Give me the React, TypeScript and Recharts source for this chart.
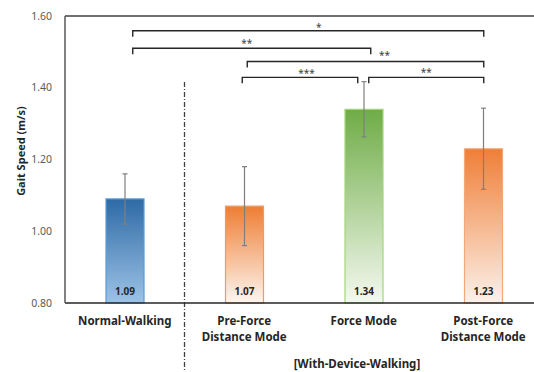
import { BarChart, Bar, XAxis, YAxis, Cell, ErrorBar, LabelList, ReferenceLine } from "recharts";

const categories = ["Normal-Walking", "Pre-Force\nDistance Mode", "Force Mode", "Post-Force\nDistance Mode"];
const speeds = [1.09, 1.07, 1.34, 1.23];
const errors = [0.07, 0.11, 0.077, 0.113];
const yTicks = [0.8, 1.0, 1.2, 1.4, 1.6];

// significance brackets: from/to category index, height in m/s, stars
const bracketFrom = [0, 0, 1, 1, 2];
const bracketTo = [3, 2, 3, 2, 3];
const bracketLevels = [1.559, 1.51, 1.473, 1.429, 1.429];
const bracketStars = ["*", "**", "**", "***", "**"];

const dividerTop = 1.416;
const dividerBottom = 0.607;

const topColors = ["#2e6aa5", "#ee7d33", "#6fac46", "#ef7f37"];
const bottomColors = ["#9dc3e6", "#fdf6f0", "#f4f9f0", "#fcf1ea"];
const strokeColors = ["#5b9bd5", "#f19a5e", "#a3d67a", "#f4a878"];
// pixel tweaks for bracket ends / star placement: [leftDx, rightDx, starDx, starDy]
const bracketTweaks = [
  [8, 0.5, 10.5, 0],
  [8, 7, -5, -1],
  [3, 0.5, 19, -3],
  [-2, -6, 6.5, 0],
  [5, 0.5, 0, -1],
];

const data = categories.map((name, i) => ({ name, speed: speeds[i], err: errors[i] }));

const FONT = "'Noto Sans', 'DejaVu Sans', sans-serif";

const XTick = (props: any) => {
  const { x, y, payload } = props;
  const lines = String(payload.value).split("\n");
  return (
    <text x={x} textAnchor="middle" fontFamily={FONT} fontWeight="bold" fontSize={11.5} fill="#262626">
      {lines.map((l, i) => (
        <tspan key={i} x={x} y={y + 22 + i * 15.5}>
          {l}
        </tspan>
      ))}
    </text>
  );
};

const BarValue = (props: any) => {
  const { x, y, width, height, value } = props;
  return (
    <text
      x={x + width / 2}
      y={y + height - 8}
      textAnchor="middle"
      fontFamily={FONT}
      fontWeight="bold"
      fontSize={10}
      fill="#262626"
    >
      {Number(value).toFixed(2)}
    </text>
  );
};

const makeBracket = (i: number) => (props: any) => {
  const { x1, y1, x2 } = props;
  const [dl, dr, sdx, sdy] = bracketTweaks[i];
  const l = x1 + dl;
  const r = x2 + dr;
  return (
    <g>
      <path
        d={`M${l},${y1 + 6}L${l},${y1}L${r},${y1}L${r},${y1 + 6}`}
        fill="none"
        stroke="#262626"
        strokeWidth={1.4}
      />
      <text x={(l + r) / 2 + sdx} y={y1 + sdy} textAnchor="middle" fontFamily={FONT} fontSize={10} fill="#404040">
        {bracketStars[i]}
      </text>
    </g>
  );
};

export default function App() {
  return (
    <div style={{ position: "fixed", left: 0, top: 0, width: 534, height: 372, overflow: "hidden", background: "#fff" }}>
      <BarChart width={560} height={372} data={data} margin={{ top: 16, right: 17, bottom: 0, left: 8 }}>
        <defs>
          {categories.map((_, i) => (
            <linearGradient key={i} id={`grad-${i}`} x1="0" y1="0" x2="0" y2="1">
              <stop offset="0%" stopColor={topColors[i]} />
              <stop offset="100%" stopColor={bottomColors[i]} />
            </linearGradient>
          ))}
        </defs>
        <XAxis
          dataKey="name"
          height={69}
          tickLine={false}
          tickSize={0}
          tickMargin={0}
          interval={0}
          axisLine={{ stroke: "#262626", strokeWidth: 1.5 }}
          tick={<XTick />}
          label={{
            content: () => (
              <text x={357} y={367.5} textAnchor="middle" fontFamily={FONT} fontWeight="bold" fontSize={11.5} fill="#262626">
                [With-Device-Walking]
              </text>
            ),
          }}
        />
        <YAxis
          width={57}
          domain={[0.8, 1.6]}
          ticks={yTicks}
          tickLine={false}
          tickMargin={7}
          axisLine={{ stroke: "#595959", strokeWidth: 1.5 }}
          tick={{ fontFamily: FONT, fontSize: 10.5, fill: "#595959" }}
          tickFormatter={(v: number) => v.toFixed(2)}
          label={{
            content: () => (
              <text
                x={20}
                y={151}
                transform="rotate(-90 20 151)"
                textAnchor="middle"
                dominantBaseline="central"
                fontFamily={FONT}
                fontWeight="bold"
                fontSize={11}
                fill="#262626"
              >
                Gait Speed (m/s)
              </text>
            ),
          }}
        />
        <ReferenceLine y={1.6} stroke="#404040" strokeWidth={1.3} ifOverflow="visible" />
        <ReferenceLine
          segment={[
            { x: categories[1], y: dividerTop },
            { x: categories[1], y: dividerBottom },
          ]}
          position="start"
          ifOverflow="visible"
          stroke="#404040"
          strokeWidth={1.3}
          strokeDasharray="5 2 1 2"
        />
        <Bar dataKey="speed" barSize={38} isAnimationActive={false} strokeWidth={1.2}>
          {data.map((_, i) => (
            <Cell key={`cell-${i}`} fill={`url(#grad-${i})`} stroke={strokeColors[i]} />
          ))}
          <ErrorBar dataKey="err" width={2.5} stroke="#7f7f7f" strokeWidth={1.2} direction="y" isAnimationActive={false} />
          <LabelList dataKey="speed" content={<BarValue />} />
        </Bar>
        {bracketLevels.map((lv, i) => (
          <ReferenceLine
            key={`br-${i}`}
            segment={[
              { x: categories[bracketFrom[i]], y: lv },
              { x: categories[bracketTo[i]], y: lv },
            ]}
            ifOverflow="visible"
            shape={makeBracket(i)}
          />
        ))}
      </BarChart>
    </div>
  );
}
